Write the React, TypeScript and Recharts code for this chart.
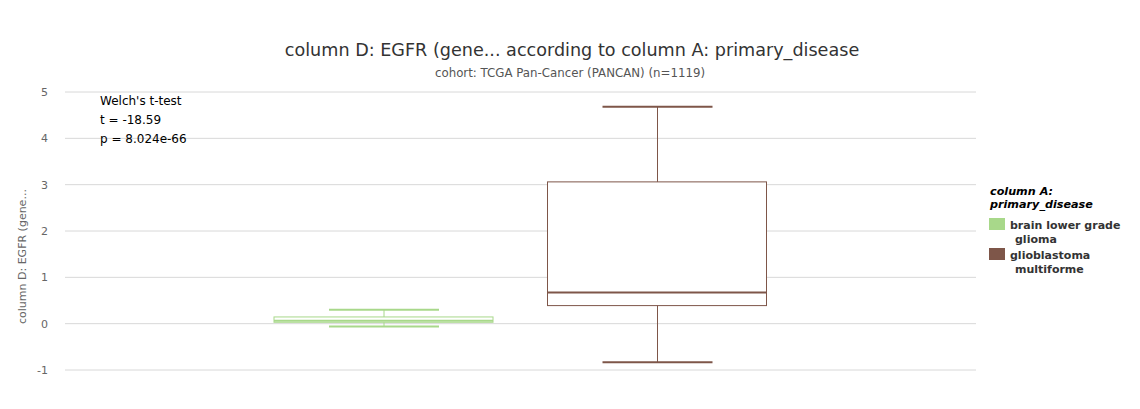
import React from 'react';
import { ComposedChart, Bar, XAxis, YAxis, CartesianGrid } from 'recharts';

const categories = ['brain lower grade glioma', 'glioblastoma multiforme'];
const legendLines = [['brain lower grade', 'glioma'], ['glioblastoma', 'multiforme']];
const colors = ['#a8d88a', '#7e5649'];
const mins = [-0.06, -0.835];
const q1s = [0.03, 0.39];
const medians = [0.065, 0.67];
const q3s = [0.145, 3.06];
const maxs = [0.3, 4.68];
const yTicks = [-1, 0, 1, 2, 3, 4, 5];

const titleText = 'column D: EGFR (gene... according to column A: primary_disease';
const subtitleText = 'cohort: TCGA Pan-Cancer (PANCAN) (n=1119)';
const yLabel = 'column D: EGFR (gene...';
const statLines = ["Welch's t-test", 't = -18.59', 'p = 8.024e-66'];
const legendTitle = ['column A:', 'primary_disease'];

const data = categories.map((name, i) => ({
  name,
  whisker: [mins[i], maxs[i]],
  box: [q1s[i], q3s[i]],
  q1: q1s[i],
  q3: q3s[i],
  median: medians[i],
  color: colors[i],
}));

const FONT = '"DejaVu Sans", "Lucida Grande", Verdana, sans-serif';

const WhiskerShape = (props: any) => {
  const { x, y, width, height, payload } = props;
  const top = Math.min(y, y + height);
  const bot = Math.max(y, y + height);
  const cx = x + width / 2;
  const c = payload.color;
  return (
    <g>
      <line x1={cx} x2={cx} y1={top} y2={bot} stroke={c} strokeWidth={1} />
      <line x1={x} x2={x + width} y1={top} y2={top} stroke={c} strokeWidth={2} />
      <line x1={x} x2={x + width} y1={bot} y2={bot} stroke={c} strokeWidth={2} />
    </g>
  );
};

const BoxShape = (props: any) => {
  const { x, y, width, height, payload } = props;
  const top = Math.min(y, y + height);
  const h = Math.abs(height);
  const c = payload.color;
  const my = top + (h * (payload.q3 - payload.median)) / (payload.q3 - payload.q1);
  return (
    <g>
      <rect x={x} y={top} width={width} height={h} fill="#ffffff" stroke={c} strokeWidth={1} />
      <line x1={x} x2={x + width} y1={my} y2={my} stroke={c} strokeWidth={2} />
    </g>
  );
};

export default function App() {
  return (
    <div style={{ position: 'absolute', left: 0, top: 0, width: 1140, height: 409, background: '#fff' }}>
      <ComposedChart
        width={1140}
        height={409}
        data={data}
        margin={{ top: 92, right: 164, bottom: 39, left: 0 }}
      >
        <CartesianGrid xAxisId="b" vertical={false} stroke="#d8d8d8" />
        <XAxis xAxisId="w" dataKey="name" hide padding={{ left: 182, right: 182 }} />
        <XAxis xAxisId="b" dataKey="name" hide padding={{ left: 182, right: 182 }} />
        <YAxis
          width={65}
          domain={[-1, 5]}
          ticks={yTicks}
          type="number"
          axisLine={false}
          tickLine={false}
          tickSize={0}
          tickMargin={17}
          tick={{ fill: '#666666', fontSize: 11, fontFamily: FONT }}
        />
        <Bar xAxisId="w" dataKey="whisker" barSize={110} shape={WhiskerShape} isAnimationActive={false} />
        <Bar xAxisId="b" dataKey="box" barSize={219} shape={BoxShape} isAnimationActive={false} />
      </ComposedChart>
      <svg
        width={1140}
        height={409}
        style={{ position: 'absolute', left: 0, top: 0, pointerEvents: 'none' }}
        fontFamily={FONT}
      >
        <text x={572} y={56} textAnchor="middle" fontSize={17.6} fill="#333333">{titleText}</text>
        <text x={570} y={77} textAnchor="middle" fontSize={11.8} fill="#555555">{subtitleText}</text>
        <text
          transform="translate(26,324) rotate(-90)"
          x={0}
          y={0}
          textAnchor="start"
          fontSize={11}
          fill="#666666"
        >
          {yLabel}
        </text>
        {statLines.map((s, i) => (
          <text key={s} x={100} y={105 + i * 19} fontSize={12} fill="#000000">{s}</text>
        ))}
        {legendTitle.map((s, i) => (
          <text key={s} x={990} y={195 + i * 13} fontSize={11.2} fontWeight="bold" fontStyle="italic" fill="#000000">{s}</text>
        ))}
        {legendLines.map((lines, i) => (
          <g key={categories[i]}>
            <rect x={989} y={218 + i * 30} width={16} height={12} fill={colors[i]} />
            <text x={1010} y={229 + i * 30} fontSize={11} fontWeight="bold" fill="#333333">{lines[0]}</text>
            <text x={1015} y={243 + i * 30} fontSize={11} fontWeight="bold" fill="#333333">{lines[1]}</text>
          </g>
        ))}
      </svg>
    </div>
  );
}
